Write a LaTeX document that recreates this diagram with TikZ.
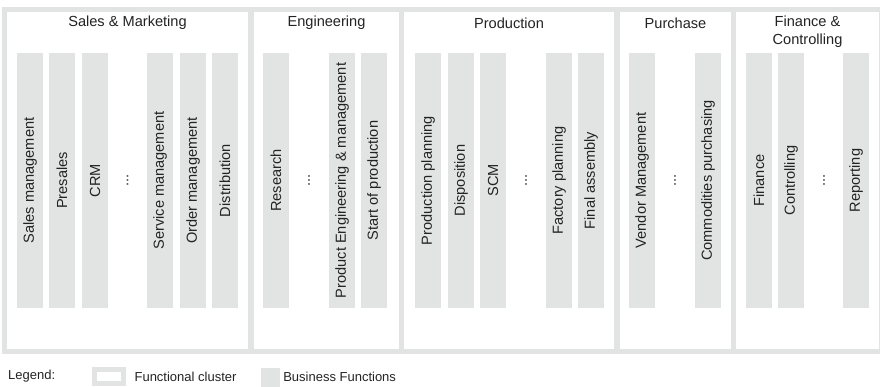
\documentclass[tikz,border=0pt]{standalone}
\usepackage{fontspec}
\setmainfont{Liberation Sans}
\usetikzlibrary{positioning}
\definecolor{clustergray}{RGB}{226,227,227}
\definecolor{inkgray}{RGB}{35,35,35}
\newcommand{\cluster}[2]{\fill[white] (0,12) rectangle (#1,349);
					\node[clustertitle] (#2) at (#1/2,23) {};}
\newcommand{\bizfunc}[3]{\node[bizfunc] (#1) at (#2,180.5) {#3};}
\newcommand{\morefunc}[2]{\node[morefunc] (#1) at (#2,180.5) {...};}

\begin{document}
\begin{tikzpicture}[x=1pt, y=-1pt, text=inkgray,
	bizfunc/.style = {rotate=90, fill=clustergray, inner sep=0pt,
		minimum width=255pt, minimum height=26pt,
		font=\fontsize{14.6}{17}\selectfont},
	morefunc/.style = {rotate=90, inner sep=0pt, font=\fontsize{14.6}{17}\selectfont},
	clustertitle/.style = {inner sep=0pt, align=center, font=\fontsize{14.6}{18}\selectfont},
	legendtext/.style = {inner sep=0pt, font=\fontsize{13}{15}\selectfont}]

					\useasboundingbox (0,0) rectangle (880,387);
					\fill[clustergray] (2,7) rectangle (880,354);

					% Sales & Marketing
					\begin{scope}[xshift = 7pt]
						\fill[white] (0,12) rectangle (241,349);
						\node[clustertitle] (sales) at (120.5,23) {Sales \& Marketing};
						\bizfunc{salesmgmt}{23}{Sales management}
						\bizfunc{presales}{55}{Presales}
						\bizfunc{crm}{88}{CRM}
						\morefunc{salesmore}{120.5}
						\bizfunc{servicemgmt}{153}{Service management}
						\bizfunc{ordermgmt}{186}{Order management}
						\bizfunc{distribution}{218}{Distribution}
					\end{scope}

					% Engineering
					\begin{scope}[xshift = 254pt]
						\fill[white] (0,12) rectangle (145,349);
						\node[clustertitle] (engineering) at (72.5,23) {Engineering};
						\bizfunc{research}{22}{Research}
						\morefunc{engmore}{55}
						\bizfunc{producteng}{88}{Product Engineering \& management}
						\bizfunc{sop}{120}{Start of production}
					\end{scope}

					% Production
					\begin{scope}[xshift = 404pt]
						\fill[white] (0,12) rectangle (210,349);
						\node[clustertitle] (production) at (105,23) {Production};
						\bizfunc{prodplanning}{24}{Production planning}
						\bizfunc{disposition}{57}{Disposition}
						\bizfunc{scm}{89}{SCM}
						\morefunc{prodmore}{122}
						\bizfunc{factoryplanning}{155}{Factory planning}
						\bizfunc{finalassembly}{187}{Final assembly}
					\end{scope}

					% Purchase
					\begin{scope}[xshift = 620pt]
						\fill[white] (0,12) rectangle (111,349);
						\node[clustertitle] (purchase) at (55.5,23) {Purchase};
						\bizfunc{vendormgmt}{22}{Vendor Management}
						\morefunc{purchmore}{55}
						\bizfunc{commodities}{88}{Commodities purchasing}
					\end{scope}

					% Finance & Controlling
					\begin{scope}[xshift = 736pt]
						\fill[white] (0,12) rectangle (143,349);
						\node[clustertitle] (finance) at (71.5,32) {Finance \&\\Controlling};
						\bizfunc{financefn}{23}{Finance}
						\bizfunc{controlling}{55}{Controlling}
						\morefunc{finmore}{88}
						\bizfunc{reporting}{120}{Reporting}
					\end{scope}

					% Legend
					\node[legendtext, anchor=west] (legend) at (8,376.5) {Legend:};
					\node[draw=clustergray, line width=5pt, fill=white, inner sep=0pt,
						minimum width=29pt, minimum height=14pt, right=36.5pt of legend] (keycluster) {};
					\node[legendtext, right=8.5pt of keycluster] (keyclustertext) {Functional cluster};
					\node[fill=clustergray, inner sep=0pt, minimum width=19pt, minimum height=19pt,
						right=24pt of keyclustertext, yshift=-1pt] (keyfunc) {};
					\node[legendtext, right=3pt of keyfunc, yshift=1pt] (keyfunctext) {Business Functions};

				\end{tikzpicture}
\end{document}
